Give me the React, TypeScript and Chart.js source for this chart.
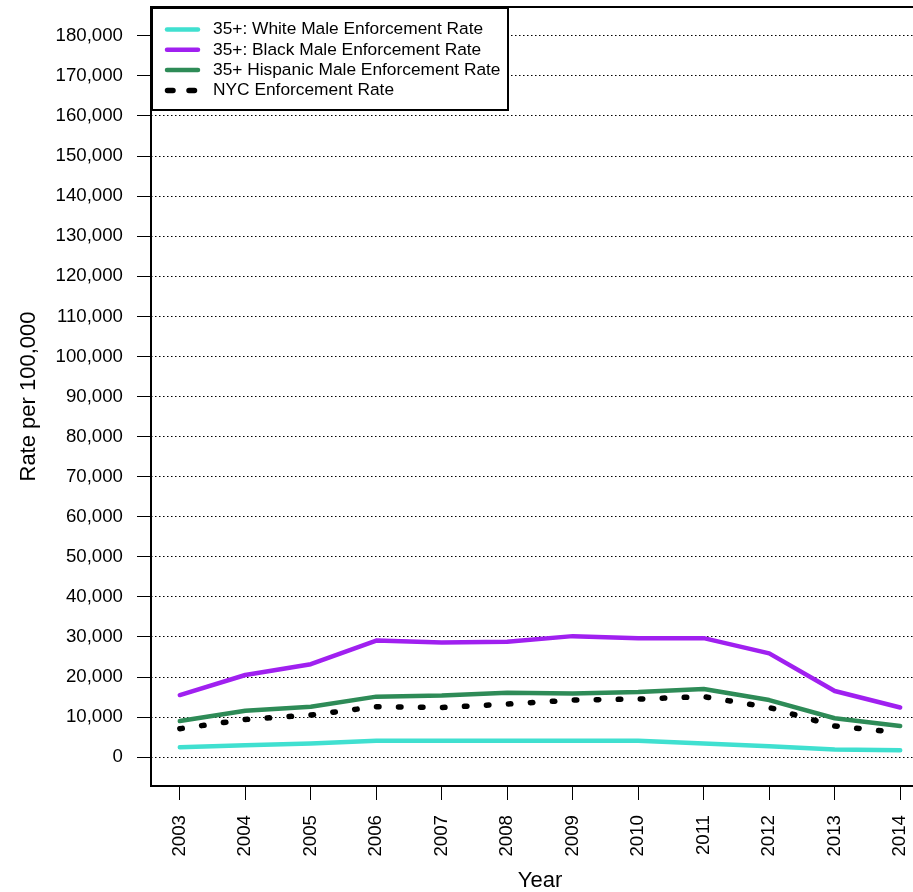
import React, { useEffect, useRef } from "react";
import { Chart, registerables } from "chart.js";

Chart.register(...registerables);

const years = [2003, 2004, 2005, 2006, 2007, 2008, 2009, 2010, 2011, 2012, 2013, 2014];
const whiteRate = [2500, 3000, 3400, 4100, 4100, 4100, 4100, 4100, 3400, 2750, 1900, 1750];
const blackRate = [15500, 20500, 23200, 29100, 28600, 28800, 30200, 29700, 29700, 25900, 16500, 12400];
const hispanicRate = [9000, 11600, 12600, 15100, 15400, 16100, 15900, 16250, 17000, 14250, 9700, 7750];
const nycRate = [7100, 9400, 10500, 12600, 12400, 13250, 14250, 14500, 15100, 12400, 7750, 6100];
const yTickValues = [0, 10000, 20000, 30000, 40000, 50000, 60000, 70000, 80000, 90000, 100000, 110000, 120000, 130000, 140000, 150000, 160000, 170000, 180000];

const seriesLabels = [
  "35+: White Male Enforcement Rate",
  "35+: Black Male Enforcement Rate",
  "35+ Hispanic Male Enforcement Rate",
  "NYC Enforcement Rate",
];
const seriesColors = ["#40E0D0", "#A020F0", "#2E8B57", "#000000"];

const FONT = "'Liberation Sans', Arial, sans-serif";

function fmt(v: number) {
  return String(v).replace(/\B(?=(\d{3})+(?!\d))/g, ",");
}

const boxAndLegend = {
  id: "boxAndLegend",
  afterDraw(chart: any) {
    const ctx = chart.ctx;
    const a = chart.chartArea;
    ctx.save();
    ctx.strokeStyle = "#000";
    ctx.lineWidth = 2;
    ctx.setLineDash([]);
    ctx.strokeRect(a.left, a.top, a.right - a.left, a.bottom - a.top);

    const lx = a.left + 1;
    const ly = a.top + 1;
    const lw = 356;
    const lh = 102;
    ctx.fillStyle = "#fff";
    ctx.fillRect(lx, ly, lw, lh);
    ctx.strokeRect(lx, ly, lw, lh);
    const rowH = 20.3;
    const firstY = ly + 21.5;
    ctx.font = `17.33px ${FONT}`;
    ctx.textBaseline = "middle";
    ctx.textAlign = "left";
    chart.data.datasets.forEach((ds: any, i: number) => {
      const y = firstY + i * rowH;
      ctx.strokeStyle = ds.borderColor;
      ctx.lineCap = "round";
      if (ds.borderDash && ds.borderDash.length) {
        ctx.lineWidth = 5.5;
        ctx.beginPath();
        ctx.moveTo(lx + 15.5, y);
        ctx.lineTo(lx + 21, y);
        ctx.moveTo(lx + 37, y);
        ctx.lineTo(lx + 42.5, y);
        ctx.stroke();
      } else {
        ctx.lineWidth = 4.5;
        ctx.beginPath();
        ctx.moveTo(lx + 15, y);
        ctx.lineTo(lx + 46, y);
        ctx.stroke();
      }
      ctx.fillStyle = "#000";
      ctx.fillText(ds.label, lx + 61, y);
    });
    ctx.restore();
  },
};

export default function App() {
  const ref = useRef<HTMLCanvasElement>(null);

  useEffect(() => {
    if (!ref.current) return;
    const mk = (vals: number[]) => years.map((x, i) => ({ x, y: vals[i] }));
    const common = { pointRadius: 0, borderCapStyle: "round", borderJoinStyle: "round" };
    const chart = new Chart(ref.current, {
      type: "line",
      data: {
        datasets: [
          { ...common, label: seriesLabels[0], data: mk(whiteRate), borderColor: seriesColors[0], borderWidth: 4.5, order: 3 },
          { ...common, label: seriesLabels[1], data: mk(blackRate), borderColor: seriesColors[1], borderWidth: 4.5, order: 2 },
          { ...common, label: seriesLabels[2], data: mk(hispanicRate), borderColor: seriesColors[2], borderWidth: 4.5, order: 1 },
          { ...common, label: seriesLabels[3], data: mk(nycRate), borderColor: seriesColors[3], borderWidth: 5.5, borderDash: [2.5, 19.5], order: 0 },
        ],
      },
      options: {
        responsive: false,
        animation: false,
        layout: { padding: { top: 7, right: 11, left: 0, bottom: 0 } },
        plugins: { legend: { display: false }, tooltip: { enabled: false } },
        elements: { line: { tension: 0 } },
        scales: {
          x: {
            type: "linear",
            min: 2002.56,
            max: 2014.44,
            afterBuildTicks: (axis: any) => {
              axis.ticks = years.map((v) => ({ value: v }));
            },
            afterFit: (scale: any) => {
              scale.height = 106;
              scale.paddingLeft = 0;
              scale.paddingRight = 0;
              scale.paddingTop = 0;
              scale.paddingBottom = 0;
            },
            grid: { drawOnChartArea: false, drawTicks: true, tickLength: 14, tickColor: "#000", tickWidth: 1 },
            border: { display: false },
            ticks: {
              autoSkip: false,
              minRotation: 90,
              maxRotation: 90,
              padding: 15,
              color: "#000",
              font: { family: FONT, size: 18.67 },
              callback: (v: any) => String(v),
            },
            title: {
              display: true,
              text: "Year",
              color: "#000",
              font: { family: FONT, size: 22, lineHeight: 1 },
              padding: { top: 0, bottom: 0 },
            },
          },
          y: {
            type: "linear",
            min: -7200,
            max: 187200,
            afterBuildTicks: (axis: any) => {
              axis.ticks = yTickValues.map((v) => ({ value: v }));
            },
            afterFit: (scale: any) => {
              scale.width = 151;
              scale.paddingLeft = 0;
              scale.paddingRight = 0;
              scale.paddingTop = 0;
              scale.paddingBottom = 0;
            },
            grid: { drawOnChartArea: true, drawTicks: true, tickLength: 14, color: "#000", lineWidth: 1, tickColor: "#000", tickWidth: 1, tickBorderDash: [] },
            border: { display: false, dash: [1.5, 2.5] },
            ticks: {
              padding: 14,
              color: "#000",
              font: { family: FONT, size: 18.67 },
              callback: (v: any) => fmt(Number(v)),
            },
            title: {
              display: true,
              text: "Rate per 100,000",
              color: "#000",
              font: { family: FONT, size: 22, lineHeight: 1 },
              padding: { top: 18, bottom: 0 },
            },
          },
        },
      },
      plugins: [boxAndLegend],
    } as any);
    return () => chart.destroy();
  }, []);

  return (
    <div style={{ position: "fixed", left: 0, top: 0, width: 913, height: 892, overflow: "hidden", background: "#fff" }}>
      <canvas ref={ref} width={940} height={892} style={{ width: 940, height: 892, display: "block" }} />
    </div>
  );
}
